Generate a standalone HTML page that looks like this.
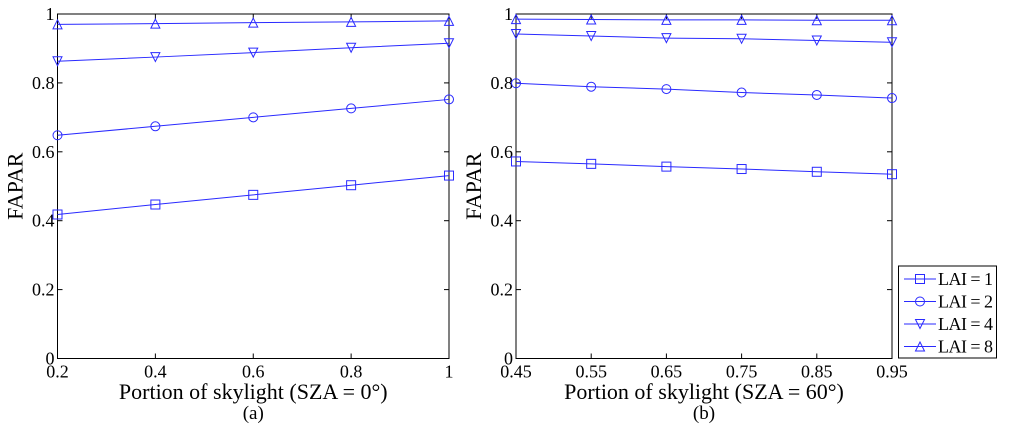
<!DOCTYPE html>
<html><head><meta charset="utf-8"><style>
body{margin:0;background:#fff}
svg{display:block;font-family:"Liberation Serif",serif}
</style></head><body>
<svg id="c" width="1024" height="432"></svg>
<script>
const xLeft=[0.2,0.4,0.6,0.8,1.0];
const left1=[0.418,0.447,0.475,0.503,0.531];
const left2=[0.648,0.674,0.700,0.726,0.752];
const left4=[0.863,0.875,0.888,0.902,0.915];
const left8=[0.970,0.972,0.975,0.977,0.980];
const xRight=[0.45,0.55,0.65,0.75,0.85,0.95];
const right1=[0.572,0.565,0.557,0.550,0.542,0.535];
const right2=[0.799,0.789,0.782,0.772,0.765,0.756];
const right4=[0.942,0.936,0.930,0.928,0.923,0.918];
const right8=[0.985,0.984,0.983,0.983,0.982,0.982];
const yTicks=[0,0.2,0.4,0.6,0.8,1];
const yTickLabels=["0","0.2","0.4","0.6","0.8","1"];
const xTicksL=[0.2,0.4,0.6,0.8,1];
const xTickLabelsL=["0.2","0.4","0.6","0.8","1"];
const xTicksR=[0.45,0.55,0.65,0.75,0.85,0.95];
const xTickLabelsR=["0.45","0.55","0.65","0.75","0.85","0.95"];
const legendLabels=["LAI = 1","LAI = 2","LAI = 4","LAI = 8"];
const markers=["sq","ci","dn","up"];

const svg=document.getElementById('c');
const NS='http://www.w3.org/2000/svg';
const BLUE='#2a2aff';
function mk(t,a,p){const e=document.createElementNS(NS,t);for(const k in a)e.setAttribute(k,a[k]);(p||svg).appendChild(e);return e;}
function marker(type,x,y,g){
  const s=4.5;
  if(type==='sq')return mk('rect',{x:x-s,y:y-s,width:2*s,height:2*s,fill:'none',stroke:BLUE},g);
  if(type==='ci')return mk('circle',{cx:x,cy:y,r:s,fill:'none',stroke:BLUE},g);
  if(type==='dn')return mk('polygon',{points:`${x-s},${y-s} ${x+s},${y-s} ${x},${y+s}`,fill:'none',stroke:BLUE},g);
  return mk('polygon',{points:`${x-s},${y+s} ${x+s},${y+s} ${x},${y-s}`,fill:'none',stroke:BLUE},g);
}
function panel(name,x0,x1,xmin,xmax,xs,series,xt,xtl,xtitle,sub){
  const y0=358.5,y1=14;
  const sx=v=>x0+(v-xmin)/(xmax-xmin)*(x1-x0);
  const sy=v=>y0-v*(y0-y1);
  const g=mk('g',{});
  
  
  const box=mk('rect',{x:x0,y:y1,width:x1-x0,height:y0-y1,fill:'none',stroke:'#000','stroke-width':1},g);
  
  
  yTicks.forEach((v,i)=>{
    const y=sy(v);
    mk('line',{x1:x0,x2:x0+5,y1:y,y2:y,stroke:'#000'},g);
    mk('line',{x1:x1,x2:x1-5,y1:y,y2:y,stroke:'#000'},g);
    const t=mk('text',{x:x0-3,y:y+6,'text-anchor':'end','font-size':18},g);
    t.textContent=yTickLabels[i];
    
    
  });
  xt.forEach((v,i)=>{
    const x=sx(v);
    mk('line',{x1:x,x2:x,y1:y0,y2:y0-5,stroke:'#000'},g);
    mk('line',{x1:x,x2:x,y1:y1,y2:y1+5,stroke:'#000'},g);
    const t=mk('text',{x:x,y:y0+19,'text-anchor':'middle','font-size':18},g);
    t.textContent=xtl[i];
    
    
  });
  series.forEach((vals,si)=>{
    const pts=vals.map((v,i)=>sx(xs[i])+','+sy(v)).join(' ');
    const l=mk('polyline',{points:pts,fill:'none',stroke:BLUE,'stroke-width':1},g);
    
    
    vals.forEach((v,i)=>{const m=marker(markers[si],sx(xs[i]),sy(v),g);
      
      });
  });
  const xl=mk('text',{x:(x0+x1)/2,y:399,'text-anchor':'middle','font-size':22},g);
  xl.textContent=xtitle;
  
  
  const sl=mk('text',{x:(x0+x1)/2,y:419,'text-anchor':'middle','font-size':19},g);
  sl.textContent=sub;
  
  
  const yl=mk('text',{x:0,y:0,'text-anchor':'middle','font-size':22,transform:`translate(${x0-35},${(y0+y1)/2}) rotate(-90)`},g);
  yl.textContent='FAPAR';
  
  
}
panel('panel-a',57.5,449,0.2,1,xLeft,[left1,left2,left4,left8],xTicksL,xTickLabelsL,'Portion of skylight (SZA = 0°)','(a)');
panel('panel-b',516,892,0.45,0.95,xRight,[right1,right2,right4,right8],xTicksR,xTickLabelsR,'Portion of skylight (SZA = 60°)','(b)');
const lg=mk('g',{});


mk('rect',{x:898.5,y:266,width:98,height:92,fill:'#fff',stroke:'#000'},lg);
legendLabels.forEach((lab,i)=>{
  const y=279+i*22.5;
  const e=mk('g',{},lg);
  
  
  mk('line',{x1:904,x2:936,y1:y,y2:y,stroke:BLUE},e);
  marker(markers[i],920,y,e);
  const t=mk('text',{x:938,y:y+6,'font-size':18,textLength:55},e);
  t.textContent=lab;
});
</script>
</body></html>
